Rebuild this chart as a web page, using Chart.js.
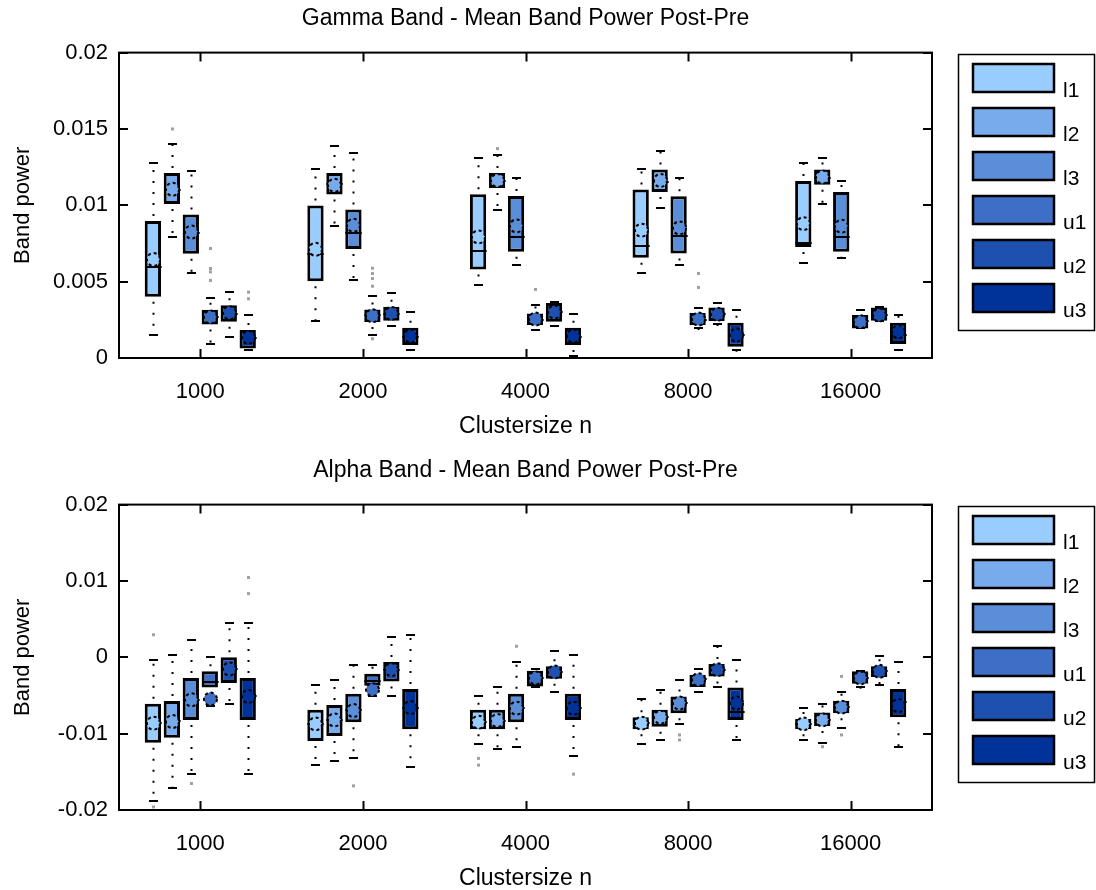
<!DOCTYPE html>
<html>
<head>
<meta charset="utf-8">
<script src="https://cdn.jsdelivr.net/npm/chart.js@4.4.1/dist/chart.umd.min.js"></script>
<style>
html, body { margin: 0; padding: 0; background: #fff; overflow: hidden; }
#wrap { position: relative; width: 1096px; height: 890px; overflow: hidden; }
#gammaChart { position: absolute; left: 0; top: 0; }
#alphaChart { position: absolute; left: 0; top: 452px; }
</style>
</head>
<body>
<div id="wrap">
  <canvas id="gammaChart" width="1096" height="445"></canvas>
  <canvas id="alphaChart" width="1096" height="445"></canvas>
</div>
<script>
/* ============= Data: ============= */
var categories = ['1000', '2000', '4000', '8000', '16000'];
var seriesNames = ['l1', 'l2', 'l3', 'u1', 'u2', 'u3'];
var seriesColors = ['#99ccff', '#78abeb', '#5a8ed8', '#3c6fc5', '#1e50b0', '#003399'];

var gammaTickVals = [0, 0.005, 0.01, 0.015, 0.02];
var gammaTickLabels = ['0', '0.005', '0.01', '0.015', '0.02'];
var alphaTickVals = [-0.02, -0.01, 0, 0.01, 0.02];
var alphaTickLabels = ['-0.02', '-0.01', '0', '0.01', '0.02'];

// gamma band, one row per series (l1..u3), one column per cluster size
var gammaLo = [
  [0.0015, 0.00242, 0.00477, 0.00554, 0.00625],
  [0.00793, 0.00865, 0.00969, 0.00982, 0.01011],
  [0.00554, 0.00508, 0.00612, 0.00612, 0.00656],
  [0.00092, 0.0015, 0.00183, 0.00198, 0.00194],
  [0.00135, 0.00209, 0.00209, 0.0022, 0.00244],
  [0.0005, 0.0005, 0.00013, 0.00052, 0.00052]
];
var gammaQ1 = [
  [0.00401, 0.00503, 0.0058, 0.00656, 0.00727],
  [0.01009, 0.0107, 0.01113, 0.01087, 0.01135],
  [0.00682, 0.00714, 0.00695, 0.00684, 0.00695],
  [0.0022, 0.00235, 0.00216, 0.00216, 0.00194],
  [0.00237, 0.00244, 0.00237, 0.00242, 0.00244],
  [0.00063, 0.00085, 0.00085, 0.00074, 0.00092]
];
var gammaMed = [
  [0.00597, 0.0068, 0.00701, 0.00732, 0.00754],
  [0.011, 0.0114, 0.0116, 0.0115, 0.0118],
  [0.0082, 0.00819, 0.00793, 0.00799, 0.00793],
  [0.0027, 0.0028, 0.0025, 0.0025, 0.0024],
  [0.0029, 0.0029, 0.003, 0.0029, 0.0028],
  [0.0013, 0.0014, 0.0014, 0.0015, 0.0015]
];
var gammaQ3 = [
  [0.00897, 0.00998, 0.01072, 0.01103, 0.01159],
  [0.01211, 0.01211, 0.01211, 0.01235, 0.01235],
  [0.00939, 0.00972, 0.01061, 0.01059, 0.01087],
  [0.00316, 0.00317, 0.00292, 0.00294, 0.00281],
  [0.00346, 0.00335, 0.00361, 0.00331, 0.00331],
  [0.00183, 0.00198, 0.00198, 0.00231, 0.00231]
];
var gammaHi = [
  [0.01279, 0.01235, 0.01312, 0.01235, 0.01279],
  [0.014, 0.01386, 0.01327, 0.01355, 0.01312],
  [0.01222, 0.01344, 0.01176, 0.01176, 0.01161],
  [0.0039, 0.00405, 0.00346, 0.00329, 0.00314],
  [0.00431, 0.00423, 0.0037, 0.00361, 0.00331],
  [0.00283, 0.003, 0.00286, 0.00314, 0.00281]
];
var gammaMean = [
  [0.00645, 0.00712, 0.00793, 0.00837, 0.0088],
  [0.01105, 0.01131, 0.01163, 0.01163, 0.01185],
  [0.00825, 0.00869, 0.00865, 0.00852, 0.00863],
  [0.00268, 0.00276, 0.00255, 0.00255, 0.00237],
  [0.00296, 0.00292, 0.00301, 0.00286, 0.00281],
  [0.00135, 0.00144, 0.00144, 0.0015, 0.00172]
];
var gammaOut = [
  [[], [], [], [], []],
  [[0.015], [], [0.01371], [], []],
  [[], [], [], [], []],
  [[0.00717, 0.00586, 0.00564, 0.00508], [0.00588, 0.00553, 0.0052, 0.0047, 0.00126], [0.00449], [0.00554, 0.00462], []],
  [[], [], [], [], []],
  [[0.00431, 0.00388], [], [], [], []]
];

// alpha band
var alphaLo = [
  [-0.01882, -0.01412, -0.01136, -0.0114, -0.01083],
  [-0.01714, -0.01355, -0.01205, -0.01083, -0.01118],
  [-0.0153, -0.01324, -0.01171, -0.00872, -0.00929],
  [-0.0064, -0.00504, -0.00395, -0.00455, -0.00395],
  [-0.00609, -0.00504, -0.00455, -0.00395, -0.00363],
  [-0.0153, -0.01442, -0.01293, -0.01083, -0.01171]
];
var alphaQ1 = [
  [-0.01118, -0.01096, -0.00942, -0.00942, -0.00942],
  [-0.01053, -0.0103, -0.00942, -0.00908, -0.00899],
  [-0.0082, -0.0085, -0.0085, -0.00732, -0.00732],
  [-0.00395, -0.00372, -0.00382, -0.0039, -0.00346],
  [-0.00337, -0.00316, -0.0028, -0.0025, -0.00258],
  [-0.0082, -0.00942, -0.0082, -0.0082, -0.00784]
];
var alphaMed = [
  [-0.0086, -0.0087, -0.0085, -0.0086, -0.0087],
  [-0.0084, -0.0082, -0.0083, -0.0078, -0.0082],
  [-0.0056, -0.0069, -0.0067, -0.006, -0.0065],
  [-0.00329, -0.0031, -0.0027, -0.0029, -0.0027],
  [-0.0015, -0.0016, -0.0019, -0.0016, -0.0018],
  [-0.0051, -0.0066, -0.0067, -0.0071, -0.0058]
];
var alphaQ3 = [
  [-0.00609, -0.00688, -0.00688, -0.00784, -0.00807],
  [-0.00574, -0.00626, -0.00688, -0.00688, -0.00724],
  [-0.00271, -0.00478, -0.00478, -0.00513, -0.0057],
  [-0.00184, -0.00215, -0.00175, -0.00228, -0.00184],
  [0, -0.00061, -0.00118, -0.00087, -0.00118],
  [-0.00271, -0.00416, -0.00478, -0.00395, -0.00416]
];
var alphaHi = [
  [-0.0003, -0.00363, -0.00513, -0.00543, -0.00666],
  [0.00026, -0.00303, -0.00395, -0.00425, -0.00609],
  [0.00233, -0.00096, -0.00066, -0.00303, -0.00455],
  [0, -0.00096, -0.00153, -0.00153, -0.00184],
  [0.00443, 0.00263, 0.00088, 0.00145, 0.00013],
  [0.00443, 0.00295, 0.00026, -0.0003, -0.00066]
];
var alphaMean = [
  [-0.00863, -0.00872, -0.0085, -0.00863, -0.00872],
  [-0.00842, -0.0082, -0.00829, -0.00784, -0.0082],
  [-0.00557, -0.00697, -0.00666, -0.006, -0.00653],
  [-0.00547, -0.00425, -0.00271, -0.00293, -0.00271],
  [-0.00153, -0.00162, -0.00192, -0.00162, -0.00184],
  [-0.00513, -0.00658, -0.00666, -0.006, -0.00632]
];
var alphaOut = [
  [[0.00295, -0.0196], [], [-0.01324, -0.01412], [], []],
  [[], [], [], [], [-0.01171]],
  [[-0.01653], [-0.01684], [0.00145], [-0.01017, -0.01083], [-0.0025, -0.01017]],
  [[], [], [], [], []],
  [[], [], [], [], []],
  [[0.01045, 0.00834], [], [-0.0153], [], []]
];

var fontFamily = '"Liberation Sans", Arial, sans-serif';

/* ============= Plugins: ============= */
// whiskers, caps, outliers, medians and means, placed on the bars drawn by Chart.js
function makeBoxPlugin(stats) {
  return {
    id: 'boxExtras',
    afterDatasetsDraw: function(chart) {
      var ctx = chart.ctx;
      var y = chart.scales.y;
      ctx.save();
      for (var s = 0; s < seriesNames.length; s++) {
        var meta = chart.getDatasetMeta(s);
        for (var c = 0; c < meta.data.length; c++) {
          var bar = meta.data[c];
          var x = Math.round(bar.x) + 0.5;
          var half = bar.width / 2;
          var yLo = y.getPixelForValue(stats.lo[s][c]);
          var yQ1 = y.getPixelForValue(stats.q1[s][c]);
          var yQ3 = y.getPixelForValue(stats.q3[s][c]);
          var yHi = y.getPixelForValue(stats.hi[s][c]);

          // dotted whiskers
          ctx.strokeStyle = '#000';
          ctx.lineWidth = 2;
          ctx.setLineDash([2, 9]);
          ctx.beginPath();
          if (yHi < yQ3 - 2) { ctx.moveTo(x, yQ3 - 5); ctx.lineTo(x, yHi); }
          if (yLo > yQ1 + 2) { ctx.moveTo(x, yQ1 + 5); ctx.lineTo(x, yLo); }
          ctx.stroke();
          ctx.setLineDash([]);

          // caps
          ctx.beginPath();
          ctx.moveTo(x - 4.5, Math.round(yHi)); ctx.lineTo(x + 4.5, Math.round(yHi));
          ctx.moveTo(x - 4.5, Math.round(yLo)); ctx.lineTo(x + 4.5, Math.round(yLo));
          ctx.stroke();

          // outliers
          ctx.fillStyle = '#a0a0a0';
          var outs = stats.out[s][c];
          for (var k = 0; k < outs.length; k++) {
            var oy = y.getPixelForValue(outs[k]);
            ctx.fillRect(x - 1.5, oy - 1.5, 3, 3);
          }

          // median
          var yMed = Math.round(y.getPixelForValue(stats.med[s][c]));
          ctx.strokeStyle = '#000';
          ctx.lineWidth = 2;
          ctx.beginPath();
          ctx.moveTo(x - half, yMed); ctx.lineTo(x + half, yMed);
          ctx.stroke();

          // mean
          var yMean = y.getPixelForValue(stats.mean[s][c]);
          ctx.fillStyle = seriesColors[s];
          ctx.beginPath();
          ctx.arc(x, yMean, 6.5, 0, Math.PI * 2);
          ctx.fill();
          ctx.setLineDash([3, 3]);
          ctx.lineWidth = 2;
          ctx.stroke();
          ctx.setLineDash([]);
        }
      }
      ctx.restore();
    },
    afterDraw: function(chart) {
      var ctx = chart.ctx;
      var a = chart.chartArea;
      ctx.save();
      ctx.strokeStyle = '#000';
      ctx.lineWidth = 2;
      ctx.strokeRect(a.left, a.top, a.right - a.left, a.bottom - a.top);
      // inward tick marks on all four sides
      ctx.beginPath();
      var xs = chart.scales.x;
      for (var i = 0; i < xs.ticks.length; i++) {
        var px = Math.round(xs.getPixelForTick(i)) + 0.5;
        ctx.moveTo(px, a.bottom); ctx.lineTo(px, a.bottom - 9);
        ctx.moveTo(px, a.top); ctx.lineTo(px, a.top + 9);
      }
      var ys = chart.scales.y;
      for (var j = 0; j < ys.ticks.length; j++) {
        var py = Math.round(ys.getPixelForValue(ys.ticks[j].value));
        ctx.moveTo(a.left, py); ctx.lineTo(a.left + 9, py);
        ctx.moveTo(a.right, py); ctx.lineTo(a.right - 9, py);
      }
      ctx.stroke();

      // legend box
      ctx.lineWidth = 1.5;
      ctx.strokeRect(958.5, 54.5, 136, 276);
      ctx.font = '21px ' + fontFamily;
      ctx.textBaseline = 'alphabetic';
      ctx.textAlign = 'left';
      for (var s = 0; s < seriesNames.length; s++) {
        var top = 64 + s * 44;
        ctx.fillStyle = seriesColors[s];
        ctx.fillRect(973, top, 81, 28);
        ctx.lineWidth = 2.5;
        ctx.strokeRect(973, top, 81, 28);
        ctx.fillStyle = '#000';
        ctx.fillText(seriesNames[s], 1063, top + 33);
      }
      ctx.restore();
    }
  };
}

/* ============= Chart builder: ============= */
function buildChart(canvasId, titleText, tickVals, tickLabels, stats) {
  var datasets = [];
  for (var i = 0; i < seriesNames.length; i++) {
    var boxes = [];
    for (var j = 0; j < categories.length; j++) {
      boxes.push([stats.q1[i][j], stats.q3[i][j]]);
    }
    datasets.push({
      label: seriesNames[i],
      data: boxes,
      backgroundColor: seriesColors[i],
      borderColor: '#000',
      borderWidth: 3,
      borderSkipped: false,
      categoryPercentage: 0.7,
      barPercentage: 0.86
    });
  }

  var ctx = document.getElementById(canvasId).getContext('2d');
  return new Chart(ctx, {
    type: 'bar',
    data: { labels: categories, datasets: datasets },
    options: {
      responsive: false,
      animation: false,
      events: [],
      layout: { padding: { left: 0, right: 164, top: 0, bottom: 0 } },
      plugins: {
        legend: { display: false },
        tooltip: { enabled: false },
        title: {
          display: true,
          text: titleText,
          fullSize: false,
          color: '#000',
          font: { family: fontFamily, size: 23, weight: 'normal' },
          padding: { top: 5, bottom: 20 }
        }
      },
      scales: {
        x: {
          grid: { display: false, drawTicks: false },
          border: { display: false },
          ticks: { color: '#000', font: { family: fontFamily, size: 22 }, padding: 21, maxRotation: 0 },
          title: {
            display: true,
            text: 'Clustersize n',
            color: '#000',
            font: { family: fontFamily, size: 23 },
            padding: { top: 0, bottom: 5 }
          },
          afterFit: function(scale) { scale.height = 87; }
        },
        y: {
          min: tickVals[0],
          max: tickVals[tickVals.length - 1],
          grid: { display: false, drawTicks: false },
          border: { display: false },
          afterBuildTicks: function(scale) {
            scale.ticks = tickVals.map(function(v) { return { value: v }; });
          },
          ticks: {
            color: '#000',
            font: { family: fontFamily, size: 22 },
            padding: 11,
            callback: function(value, index) { return tickLabels[index]; }
          },
          title: {
            display: true,
            text: 'Band power',
            color: '#000',
            font: { family: fontFamily, size: 22 },
            padding: { top: 10, bottom: 0 }
          },
          afterFit: function(scale) { scale.width = 119; }
        }
      }
    },
    plugins: [makeBoxPlugin(stats)]
  });
}

/* ============= Main(): ============= */
buildChart('gammaChart', 'Gamma Band - Mean Band Power Post-Pre', gammaTickVals, gammaTickLabels, {
  lo: gammaLo, q1: gammaQ1, med: gammaMed, q3: gammaQ3, hi: gammaHi, mean: gammaMean, out: gammaOut
});
buildChart('alphaChart', 'Alpha Band - Mean Band Power Post-Pre', alphaTickVals, alphaTickLabels, {
  lo: alphaLo, q1: alphaQ1, med: alphaMed, q3: alphaQ3, hi: alphaHi, mean: alphaMean, out: alphaOut
});
</script>
</body>
</html>
